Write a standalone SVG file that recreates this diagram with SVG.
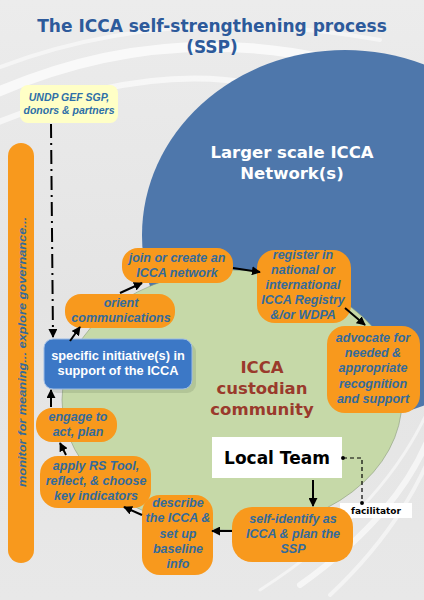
<svg xmlns="http://www.w3.org/2000/svg" width="424" height="600" viewBox="0 0 424 600">
<defs>
  <linearGradient id="bg" x1="0" y1="0" x2="0" y2="1">
    <stop offset="0" stop-color="#ECECEC"/>
    <stop offset="0.5" stop-color="#E4E4E4"/>
    <stop offset="1" stop-color="#E8E8E8"/>
  </linearGradient>
  <marker id="ah" viewBox="0 0 10 10" refX="9" refY="5" markerWidth="4.5" markerHeight="4.5" orient="auto">
    <path d="M0,0 L10,5 L0,10 Z" fill="#000"/>
  </marker>
  <marker id="dot" viewBox="0 0 10 10" refX="5" refY="5" markerWidth="4" markerHeight="4">
    <circle cx="5" cy="5" r="4" fill="#000"/>
  </marker>
</defs>
<style>
  .ob { fill: #F8991D; }
  .ot { font-family: "Liberation Sans", Arial, sans-serif; font-size: 12.5px; font-weight: bold; font-style: italic; fill: #336B9C; text-anchor: middle; }
  .ut { font-family: "Liberation Sans", Arial, sans-serif; font-size: 10.5px; font-weight: bold; font-style: italic; fill: #2E6FA8; text-anchor: middle; }
  .mt { font-family: "Liberation Sans", Arial, sans-serif; font-size: 11.5px; font-weight: bold; font-style: italic; fill: #336B9C; text-anchor: middle; }
  .ar { stroke: #000; stroke-width: 2; fill: none; marker-end: url(#ah); }
  .big { font-family: "DejaVu Sans", Verdana, sans-serif; font-weight: bold; text-anchor: middle; }
</style>
<rect width="424" height="600" fill="url(#bg)"/>
<!-- background swooshes -->
<g fill="none" stroke="#FFFFFF" stroke-linecap="round">
  <path d="M-20,100 Q150,20 330,60" stroke-width="10" stroke-opacity="0.7"/>
  <path d="M-20,130 Q140,60 260,85" stroke-width="6" stroke-opacity="0.6"/>
  <path d="M-20,75 Q160,0 380,40" stroke-width="4" stroke-opacity="0.5"/>
  <path d="M440,400 Q420,500 300,585" stroke-width="6" stroke-opacity="0.6"/>
  <path d="M440,430 Q410,520 330,595" stroke-width="4" stroke-opacity="0.5"/>
  <path d="M440,380 Q400,500 260,590" stroke-width="3" stroke-opacity="0.5"/>
</g>

<g id="title">
  <text class="big" x="212" y="32" font-size="17" fill="#2D5A9B">The ICCA self-strengthening process</text>
  <text class="big" x="212" y="53" font-size="17" fill="#2D5A9B">(SSP)</text>
</g>

<g id="network-circle">
  <ellipse cx="345" cy="235" rx="203" ry="185" fill="#4E77AB"/>
</g>
<g id="custodian-community">
  <ellipse cx="232" cy="400" rx="170" ry="130" fill="#C6D9A8" stroke="#8A9A7A" stroke-width="0.6"/>
</g>
<g id="network-label">
  <text class="big" x="292" y="158" font-size="16.5" fill="#FFFFFF">Larger scale ICCA</text>
  <text class="big" x="292" y="179" font-size="16.5" fill="#FFFFFF">Network(s)</text>
</g>
<g id="community-label">
  <text class="big" x="262" y="373" font-size="16.5" fill="#9A3A2C">ICCA</text>
  <text class="big" x="262" y="394" font-size="16.5" fill="#9A3A2C">custodian</text>
  <text class="big" x="262" y="415" font-size="16.5" fill="#9A3A2C">community</text>
</g>

<g id="monitor-bar">
  <rect x="8" y="143" width="26" height="420" rx="13" class="ob"/>
  <text class="mt" transform="translate(26,352) rotate(-90)" x="0" y="0" textLength="270" lengthAdjust="spacingAndGlyphs">monitor for meaning... explore governance...</text>
</g>

<g id="undp">
  <rect x="20" y="85" width="98" height="38" rx="8" fill="#FFFFC6"/>
  <text class="ut" x="69" y="101">UNDP GEF SGP,</text>
  <text class="ut" x="69" y="114">donors &amp; partners</text>
</g>

<g id="join">
  <rect x="122" y="248" width="111" height="35" rx="16" class="ob"/>
  <text class="ot" x="177" y="262">join or create an</text>
  <text class="ot" x="177" y="277">ICCA network</text>
</g>
<g id="register">
  <rect x="257" y="250" width="94" height="73" rx="18" class="ob"/>
  <text class="ot" x="303" y="259">register in</text>
  <text class="ot" x="303" y="274">national or</text>
  <text class="ot" x="303" y="289">international</text>
  <text class="ot" x="303" y="304">ICCA Registry</text>
  <text class="ot" x="303" y="319">&amp;/or WDPA</text>
</g>
<g id="advocate">
  <rect x="327" y="326" width="93" height="87" rx="18" class="ob"/>
  <text class="ot" x="373" y="342">advocate for</text>
  <text class="ot" x="373" y="357">needed &amp;</text>
  <text class="ot" x="373" y="372">appropriate</text>
  <text class="ot" x="373" y="388">recognition</text>
  <text class="ot" x="373" y="403">and support</text>
</g>
<g id="local-team">
  <rect x="212" y="437" width="130" height="41" fill="#FFFFFF"/>
  <text class="big" x="277" y="464" font-size="17" fill="#000">Local Team</text>
</g>
<g id="facilitator">
  <rect x="340" y="503" width="72" height="15" fill="#FFFFFF"/>
  <text x="376" y="514" font-family="DejaVu Sans, Verdana, sans-serif" font-size="9" font-weight="bold" text-anchor="middle" fill="#000">facilitator</text>
</g>
<g id="self-identify">
  <rect x="232" y="507" width="121" height="55" rx="20" class="ob"/>
  <text class="ot" x="293" y="523">self-identify as</text>
  <text class="ot" x="293" y="538">ICCA &amp; plan the</text>
  <text class="ot" x="293" y="553">SSP</text>
</g>
<g id="describe">
  <rect x="142" y="495" width="71" height="80" rx="18" class="ob"/>
  <text class="ot" x="178" y="507">describe</text>
  <text class="ot" x="178" y="522">the ICCA &amp;</text>
  <text class="ot" x="178" y="538">set up</text>
  <text class="ot" x="178" y="553">baseline</text>
  <text class="ot" x="178" y="568">info</text>
</g>
<g id="apply">
  <rect x="40" y="456" width="111" height="52" rx="18" class="ob"/>
  <text class="ot" x="96" y="470">apply RS Tool,</text>
  <text class="ot" x="96" y="485">reflect, &amp; choose</text>
  <text class="ot" x="96" y="500">key indicators</text>
</g>
<g id="engage">
  <rect x="36" y="408" width="81" height="34" rx="16" class="ob"/>
  <text class="ot" x="78" y="421">engage to</text>
  <text class="ot" x="78" y="436">act, plan</text>
</g>
<g id="specific">
  <rect x="48" y="343" width="148" height="50" rx="9" fill="#5A6A50" opacity="0.18"/>
  <rect x="44" y="339" width="148" height="50" rx="9" fill="#3C78C6" stroke="#9DBCE6" stroke-width="1"/>
  <text x="118" y="360" font-family="Liberation Sans, Arial, sans-serif" font-size="12.8" font-weight="bold" text-anchor="middle" fill="#FFFFFF">specific initiative(s) in</text>
  <text x="118" y="375" font-family="Liberation Sans, Arial, sans-serif" font-size="12.8" font-weight="bold" text-anchor="middle" fill="#FFFFFF">support of the ICCA</text>
</g>
<g id="orient">
  <rect x="65" y="294" width="110" height="34" rx="16" class="ob"/>
  <text class="ot" x="121" y="307">orient</text>
  <text class="ot" x="121" y="322">communications</text>
</g>

<g id="connectors">
  <path d="M51,124 L53,337" stroke="#000" stroke-width="2" stroke-dasharray="14,5,2,5" fill="none" marker-end="url(#ah)"/>
  <path d="M142,515 L124,507" class="ar"/>
  <path d="M66,455 L60,443" class="ar"/>
  <path d="M51,407 L51,390" class="ar"/>
  <path d="M70,341 L80,327" class="ar"/>
  <path d="M120,293 L142,283" class="ar"/>
  <path d="M233,268 L260,272" class="ar"/>
  <path d="M345,308 L365,325" class="ar"/>
  <path d="M232,531 L212,531" class="ar"/>
  <path d="M313,480 L313,506" class="ar"/>
  <path d="M343,458 L362,458 L362,503" stroke="#000" stroke-width="1.2" stroke-dasharray="4,3" fill="none" marker-start="url(#dot)" marker-end="url(#dot)"/>
</g>
</svg>
